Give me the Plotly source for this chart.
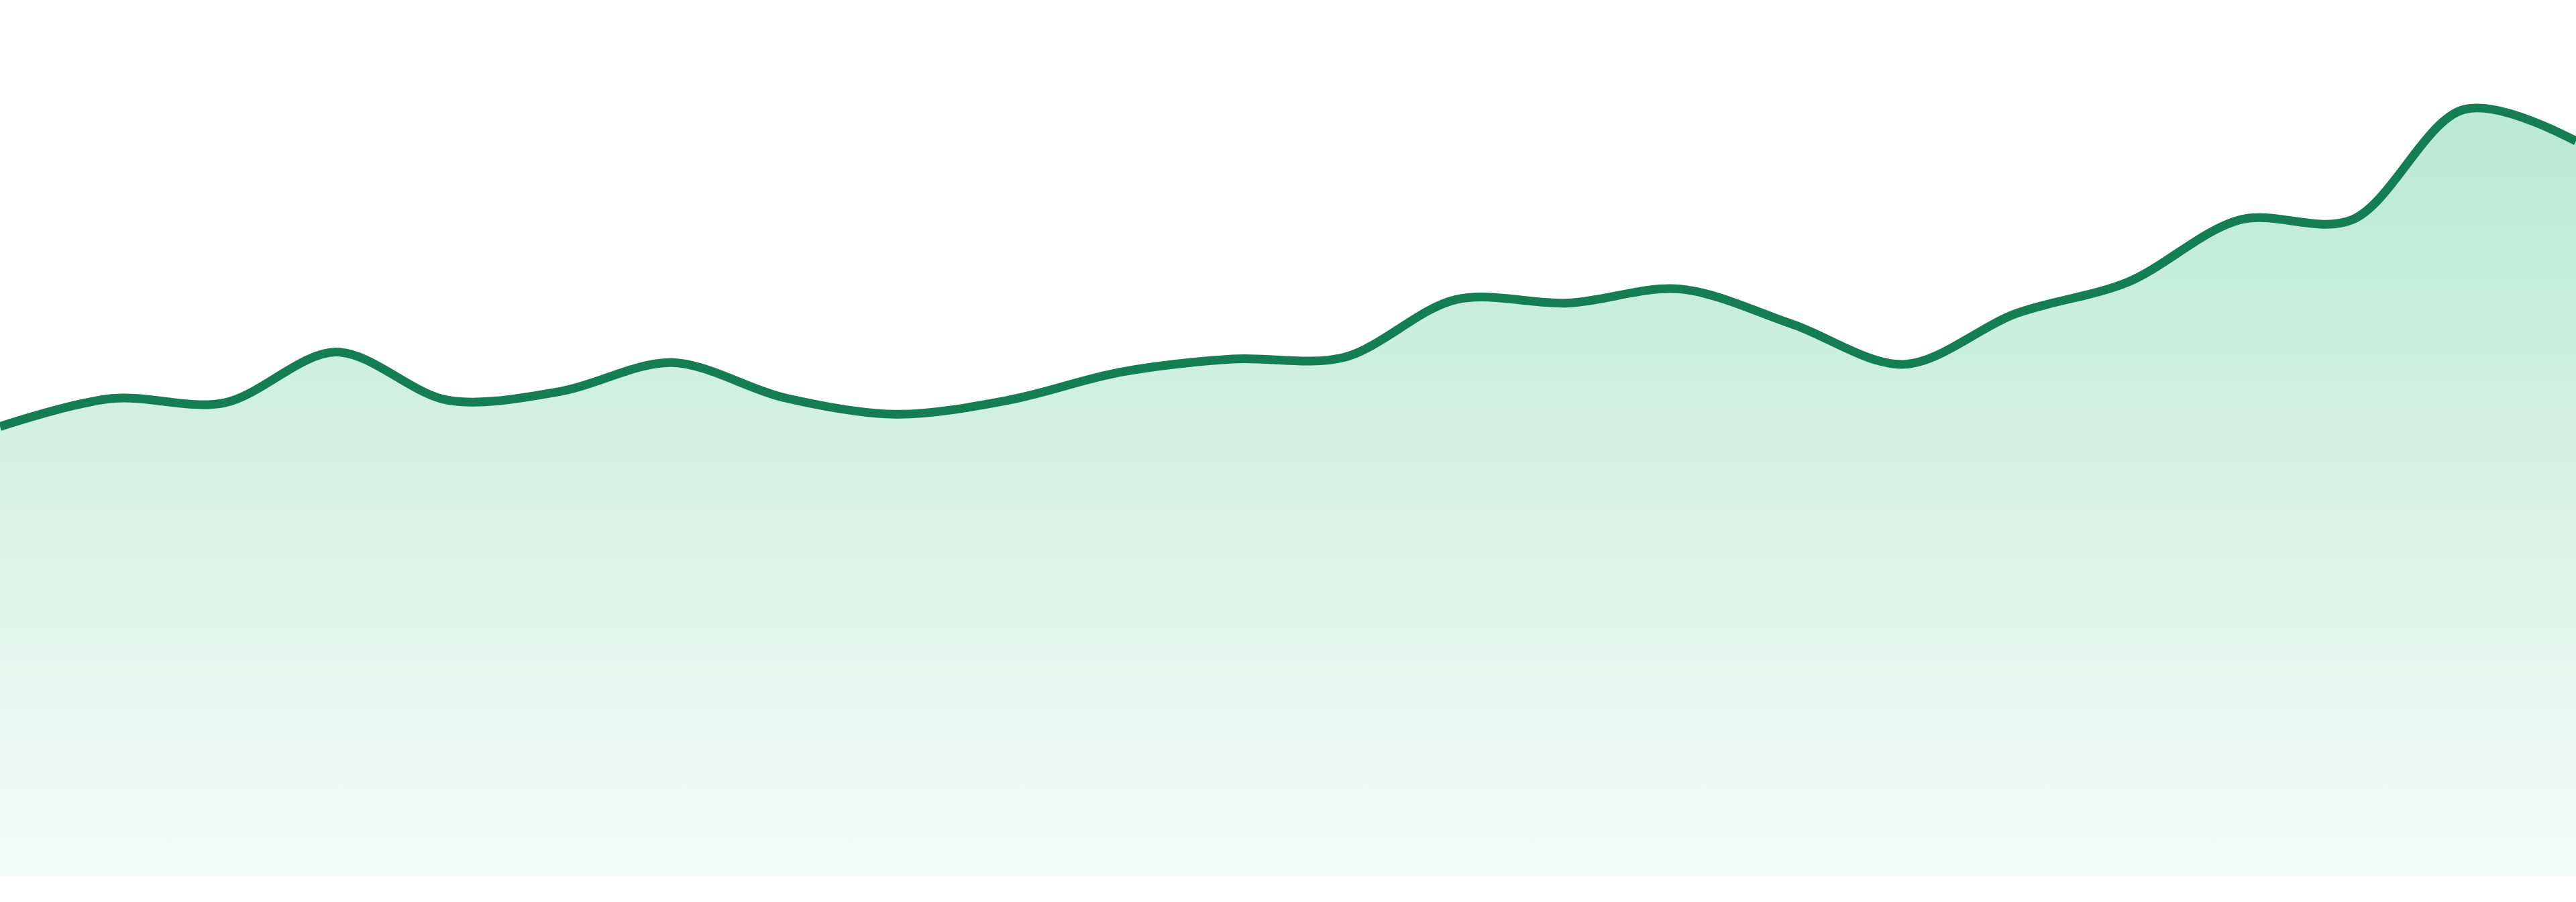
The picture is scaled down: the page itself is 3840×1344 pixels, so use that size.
import plotly.graph_objects as go

# pontos da serie (indice igualmente espacado)
periods = list(range(24))
values = [51.3, 54.5, 54.0, 59.8, 54.3, 55.3, 58.6, 54.6, 52.7, 54.3, 57.5, 59.0,
          59.2, 65.8, 65.4, 67.0, 63.0, 58.4, 64.2, 67.8, 74.9, 74.9, 87.5, 83.9]

line_color = "#147d53"
fill_bottom = "rgb(244,251,249)"
fill_top = "rgb(187,233,213)"

fig = go.Figure()
fig.add_trace(go.Scatter(
    x=periods,
    y=values,
    mode="lines",
    line=dict(color=line_color, width=13, shape="spline", smoothing=0.95),
    fill="tozeroy",
    fillgradient=dict(
        type="vertical",
        start=1.9,
        stop=84.7,
        colorscale=[[0, fill_bottom], [1, fill_top]],
    ),
    hoverinfo="skip",
))

fig.update_layout(
    width=3840,
    height=1344,
    margin=dict(l=0, r=0, t=0, b=39),
    paper_bgcolor="white",
    plot_bgcolor="white",
    showlegend=False,
    xaxis=dict(range=[0, 23], visible=False, fixedrange=True),
    yaxis=dict(range=[0, 100], visible=False, fixedrange=True),
)

# tirar a margem do body para o grafico ocupar a janela toda
fig.write_html(
    "out.html",
    config={"displayModeBar": False},
    post_script="document.body.style.margin='0';document.body.style.overflow='hidden';",
)
